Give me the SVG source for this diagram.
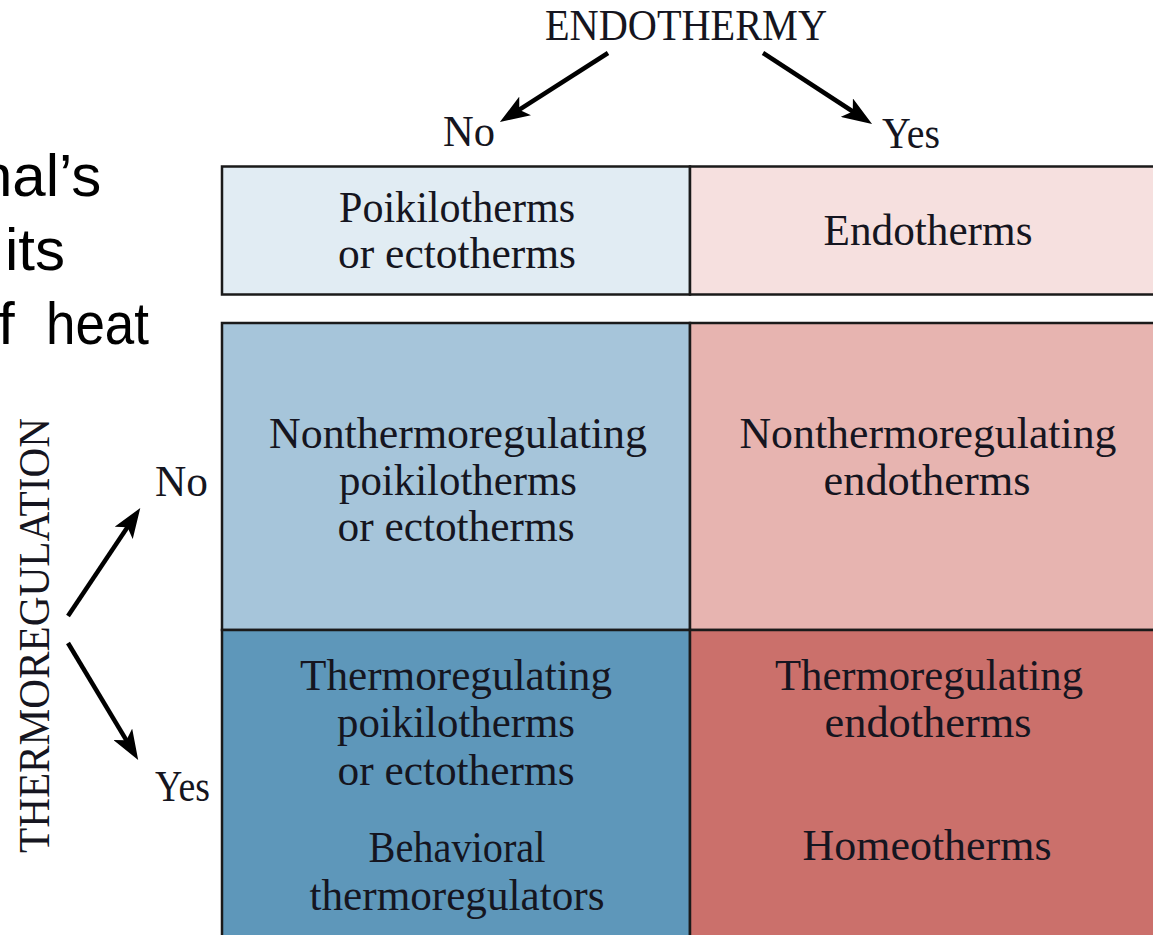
<svg xmlns="http://www.w3.org/2000/svg" width="1153" height="935" viewBox="0 0 1153 935">
  <style>
    .side { font-family: "Liberation Sans", Arial, sans-serif; font-size: 60px; fill: #000; }
    .lbl { font-family: "Liberation Serif", "Times New Roman", serif; font-size: 44px; fill: #151520; }
    .cell { font-family: "Liberation Serif", "Times New Roman", serif; font-size: 45px; fill: #151520; text-anchor: middle; }
    .box { stroke: #1a1a1a; stroke-width: 2.5; }
    .conn { stroke: #000; stroke-width: 4.5; fill: none; marker-end: url(#ah); }
  </style>
  <defs>
    <marker id="ah" markerUnits="userSpaceOnUse" markerWidth="30" markerHeight="22" viewBox="0 0 30 22" refX="18" refY="11" orient="auto">
      <path d="M0,0 L30,11 L0,22 L7,11 Z" fill="#000"/>
    </marker>
  </defs>
  <rect width="1153" height="935" fill="#fff"/>

  <g id="side-text">
    <text class="side" x="-21" y="196">nal’s</text>
    <text class="side" x="5" y="270">its</text>
    <text class="side" x="-2" y="344">f <tspan x="46" textLength="103" lengthAdjust="spacingAndGlyphs">heat</tspan></text>
  </g>

  <g id="axis-endothermy">
    <text class="lbl" x="545" y="40" font-size="41" textLength="282" lengthAdjust="spacingAndGlyphs">ENDOTHERMY</text>
    <text class="lbl" x="443" y="146" textLength="52" lengthAdjust="spacingAndGlyphs">No</text>
    <text class="lbl" x="882" y="148" textLength="58" lengthAdjust="spacingAndGlyphs">Yes</text>
  </g>

  <g id="axis-thermoregulation">
    <text class="lbl" transform="translate(49,853) rotate(-90)" x="0" y="0" font-size="45" textLength="435" lengthAdjust="spacingAndGlyphs">THERMOREGULATION</text>
    <text class="lbl" x="155" y="496" textLength="53" lengthAdjust="spacingAndGlyphs">No</text>
    <text class="lbl" x="155" y="801" textLength="55" lengthAdjust="spacingAndGlyphs">Yes</text>
  </g>

  <g id="connectors">
    <line class="conn" x1="608" y1="53" x2="510" y2="115.6"/>
    <line class="conn" x1="763" y1="53" x2="862" y2="117.5"/>
    <line class="conn" x1="68" y1="616" x2="133.6" y2="518"/>
    <line class="conn" x1="68" y1="643" x2="132" y2="749.7"/>
  </g>

  <g id="cell-poikilotherms">
    <rect class="box" x="222" y="166.5" width="468" height="128" fill="#E1ECF3"/>
    <text class="cell" x="457" y="222" textLength="236" lengthAdjust="spacingAndGlyphs">Poikilotherms</text>
    <text class="cell" x="457" y="268" textLength="238" lengthAdjust="spacingAndGlyphs">or ectotherms</text>
  </g>

  <g id="cell-endotherms">
    <rect class="box" x="690" y="166.5" width="480" height="128" fill="#F6E0DF"/>
    <text class="cell" x="928" y="245" textLength="209" lengthAdjust="spacingAndGlyphs">Endotherms</text>
  </g>

  <g id="cell-nonthermo-poikilo">
    <rect class="box" x="222" y="323" width="468" height="307" fill="#A6C5DA"/>
    <text class="cell" x="458" y="448" textLength="378" lengthAdjust="spacingAndGlyphs">Nonthermoregulating</text>
    <text class="cell" x="458" y="495" textLength="238" lengthAdjust="spacingAndGlyphs">poikilotherms</text>
    <text class="cell" x="456" y="541" textLength="237" lengthAdjust="spacingAndGlyphs">or ectotherms</text>
  </g>

  <g id="cell-nonthermo-endo">
    <rect class="box" x="690" y="323" width="480" height="307" fill="#E7B4B0"/>
    <text class="cell" x="928" y="448" textLength="377" lengthAdjust="spacingAndGlyphs">Nonthermoregulating</text>
    <text class="cell" x="927" y="495" textLength="207" lengthAdjust="spacingAndGlyphs">endotherms</text>
  </g>

  <g id="cell-thermo-poikilo">
    <rect class="box" x="222" y="630" width="468" height="320" fill="#5E97BA"/>
    <text class="cell" x="456" y="690" textLength="312" lengthAdjust="spacingAndGlyphs">Thermoregulating</text>
    <text class="cell" x="456" y="737" textLength="238" lengthAdjust="spacingAndGlyphs">poikilotherms</text>
    <text class="cell" x="456" y="785" textLength="237" lengthAdjust="spacingAndGlyphs">or ectotherms</text>
    <text class="cell" x="457" y="862" textLength="177" lengthAdjust="spacingAndGlyphs">Behavioral</text>
    <text class="cell" x="457" y="910" textLength="295" lengthAdjust="spacingAndGlyphs">thermoregulators</text>
  </g>

  <g id="cell-thermo-endo">
    <rect class="box" x="690" y="630" width="480" height="320" fill="#CB706B"/>
    <text class="cell" x="929" y="690" textLength="308" lengthAdjust="spacingAndGlyphs">Thermoregulating</text>
    <text class="cell" x="928" y="737" textLength="207" lengthAdjust="spacingAndGlyphs">endotherms</text>
    <text class="cell" x="927" y="860" textLength="249" lengthAdjust="spacingAndGlyphs">Homeotherms</text>
  </g>
</svg>
